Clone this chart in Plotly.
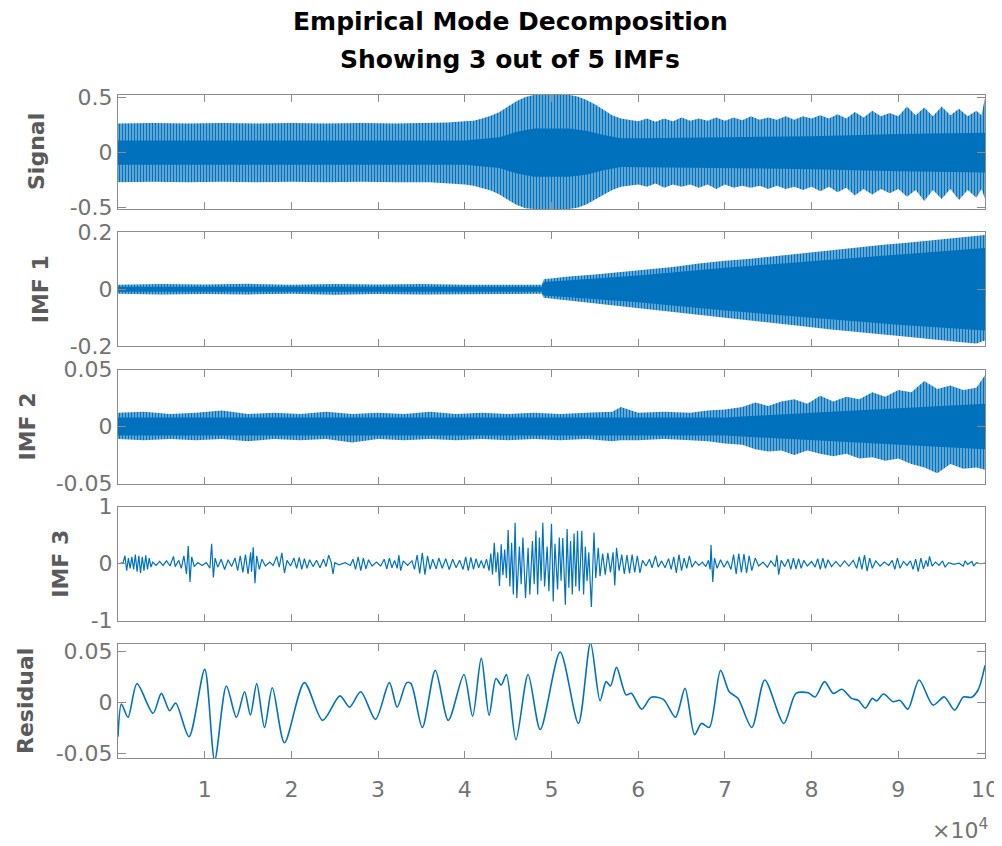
import plotly.graph_objects as go
from plotly.subplots import make_subplots

# ---------------- data (x positions in thousands of samples) ----------------
# Signal: outer envelope and dense core
SIG_XK = [0, 4, 8, 12, 16, 20, 24, 28, 32, 36, 38, 40, 41, 42, 43, 44, 45, 46, 47, 48,
          50, 52, 53, 54, 55, 56, 57, 58, 59, 60, 61, 62, 63, 64, 65, 66, 67, 68, 69, 70,
          71, 72, 73, 74, 75, 76, 77, 78, 79, 80, 81, 82, 83, 84, 85, 86, 87, 88, 89, 90,
          91, 92, 93, 94, 95, 96, 97, 98, 99, 99.6, 100]
SIG_UP = [0.265, 0.27, 0.265, 0.27, 0.265, 0.27, 0.265, 0.27, 0.265, 0.27, 0.275, 0.285, 0.29, 0.31, 0.335, 0.37, 0.42, 0.47, 0.505, 0.525,
          0.53, 0.525, 0.51, 0.48, 0.44, 0.39, 0.34, 0.31, 0.295, 0.285, 0.31, 0.28, 0.31, 0.285, 0.32, 0.29, 0.31, 0.29, 0.32, 0.29,
          0.32, 0.295, 0.33, 0.30, 0.32, 0.30, 0.33, 0.30, 0.33, 0.31, 0.34, 0.31, 0.35, 0.31, 0.37, 0.32, 0.38, 0.33, 0.36, 0.33,
          0.42, 0.34, 0.41, 0.33, 0.42, 0.34, 0.40, 0.33, 0.38, 0.34, 0.50]
SIG_LO = [-0.27, -0.265, -0.27, -0.265, -0.27, -0.265, -0.27, -0.265, -0.27, -0.27, -0.28, -0.29, -0.30, -0.32, -0.345, -0.38, -0.43, -0.475, -0.505, -0.512,
          -0.512, -0.512, -0.50, -0.47, -0.43, -0.385, -0.34, -0.31, -0.30, -0.29, -0.31, -0.28, -0.32, -0.29, -0.31, -0.29, -0.32, -0.29, -0.33, -0.29,
          -0.32, -0.30, -0.32, -0.30, -0.33, -0.30, -0.33, -0.31, -0.34, -0.31, -0.35, -0.31, -0.36, -0.32, -0.39, -0.33, -0.38, -0.33, -0.37, -0.33,
          -0.40, -0.34, -0.44, -0.34, -0.42, -0.33, -0.43, -0.34, -0.41, -0.33, -0.42]
SIG_CORE_XK = [0, 40, 44, 46, 48, 52, 54, 56, 58, 60, 70, 80, 90, 100]
SIG_CORE_UP = [0.11, 0.11, 0.14, 0.19, 0.22, 0.22, 0.20, 0.16, 0.13, 0.13, 0.14, 0.15, 0.17, 0.18]
SIG_CORE_LO = [-0.11, -0.11, -0.14, -0.19, -0.22, -0.22, -0.20, -0.16, -0.13, -0.13, -0.14, -0.15, -0.17, -0.18]

# IMF 1
IMF1_XK = [0, 5, 10, 15, 20, 25, 30, 35, 40, 45, 48.9, 49.1, 52, 55, 58, 61, 64, 67, 70, 73,
           76, 79, 82, 85, 88, 91, 94, 97, 99, 100]
IMF1_UP = [0.016, 0.018, 0.017, 0.019, 0.016, 0.018, 0.017, 0.018, 0.016, 0.017, 0.016, 0.035, 0.045, 0.052, 0.06, 0.07, 0.078, 0.09, 0.10, 0.107,
           0.117, 0.127, 0.135, 0.145, 0.155, 0.163, 0.172, 0.182, 0.188, 0.19]
IMF1_LO = [-0.016, -0.018, -0.017, -0.018, -0.016, -0.019, -0.017, -0.018, -0.016, -0.017, -0.016, -0.03, -0.04, -0.05, -0.06, -0.07, -0.08, -0.09, -0.10, -0.11,
           -0.12, -0.13, -0.14, -0.15, -0.158, -0.167, -0.175, -0.185, -0.19, -0.18]
IMF1_CORE_XK = [0, 48.9, 49.1, 60, 70, 80, 90, 100]
IMF1_CORE_UP = [0.009, 0.009, 0.025, 0.048, 0.075, 0.098, 0.12, 0.145]
IMF1_CORE_LO = [-0.009, -0.009, -0.022, -0.046, -0.075, -0.10, -0.125, -0.145]

# IMF 2
IMF2_XK = [0, 3, 6, 9, 12, 15, 18, 21, 24, 27, 30, 33, 36, 39, 42, 45, 48, 51, 54, 57,
           58, 60, 63, 66, 68, 70, 72, 73.5, 75, 76.5, 78, 79.5, 81, 82.5, 84, 85.5, 87, 88.5, 90, 91.5,
           93, 94.5, 96, 97.5, 99, 100]
IMF2_UP = [0.012, 0.013, 0.011, 0.012, 0.014, 0.011, 0.012, 0.011, 0.013, 0.011, 0.012, 0.011, 0.013, 0.011, 0.012, 0.011, 0.012, 0.011, 0.012, 0.013,
           0.017, 0.012, 0.013, 0.012, 0.014, 0.015, 0.017, 0.021, 0.018, 0.022, 0.024, 0.020, 0.027, 0.022, 0.026, 0.024, 0.030, 0.026, 0.032, 0.030,
           0.040, 0.033, 0.036, 0.032, 0.034, 0.045]
IMF2_LO = [-0.011, -0.012, -0.011, -0.012, -0.011, -0.013, -0.011, -0.012, -0.011, -0.014, -0.011, -0.012, -0.011, -0.012, -0.011, -0.012, -0.011, -0.012, -0.011, -0.013,
           -0.012, -0.012, -0.011, -0.012, -0.013, -0.015, -0.016, -0.020, -0.022, -0.021, -0.025, -0.021, -0.024, -0.026, -0.024, -0.028, -0.027, -0.030, -0.028, -0.033,
           -0.036, -0.041, -0.033, -0.037, -0.036, -0.038]
IMF2_CORE_XK = [0, 70, 80, 90, 100]
IMF2_CORE_UP = [0.008, 0.008, 0.012, 0.016, 0.02]
IMF2_CORE_LO = [-0.008, -0.008, -0.012, -0.016, -0.02]

# IMF 3: extrema
IMF3_XK = [0.0, 0.6, 0.8, 1.0, 1.2, 1.4, 1.6, 1.8, 2.0, 2.2,
           2.4, 2.6, 2.8, 3.0, 3.2, 3.4, 3.6, 3.8, 4.0, 4.4,
           4.8, 5.2, 5.6, 6.0, 6.4, 6.6, 7.0, 7.3, 7.6, 7.9,
           8.1, 8.3, 8.5, 8.8, 9.2, 9.7, 10.2, 10.6, 10.8, 11.0,
           11.2, 11.5, 11.9, 12.3, 12.7, 13.1, 13.5, 13.8, 14.1, 14.4,
           14.7, 15.0, 15.3, 15.4, 15.6, 15.8, 16.0, 16.3, 16.6, 17.0,
           17.5, 17.9, 18.3, 18.6, 18.9, 19.2, 19.5, 19.9, 20.3, 20.6,
           20.9, 21.2, 21.5, 21.8, 22.1, 22.5, 22.9, 23.3, 23.7, 24.0,
           24.3, 24.6, 24.8, 25.0, 25.5, 26.2, 26.8, 27.1, 27.4, 27.7,
           28.0, 28.3, 28.6, 28.9, 29.3, 29.8, 30.3, 30.7, 31.0, 31.3,
           31.6, 31.9, 32.2, 32.4, 32.6, 32.9, 33.4, 33.9, 34.2, 34.5,
           34.8, 35.1, 35.4, 35.7, 36.0, 36.3, 36.7, 37.0, 37.4, 37.8,
           38.2, 38.6, 39.0, 39.4, 39.8, 40.1, 40.4, 40.7, 41.0, 41.3,
           41.6, 41.9, 42.2, 42.5, 42.8, 43.0, 43.2, 43.4, 43.6, 43.8,
           44.0, 44.2, 44.4, 44.6, 44.8, 45.0, 45.2, 45.4, 45.6, 45.8,
           46.0, 46.3, 46.5, 46.7, 47.0, 47.3, 47.5, 47.8, 48.0, 48.2,
           48.4, 48.6, 48.8, 49.0, 49.2, 49.5, 49.7, 50.0, 50.2, 50.4,
           50.7, 50.9, 51.1, 51.3, 51.6, 51.8, 52.0, 52.2, 52.4, 52.6,
           52.8, 53.0, 53.2, 53.5, 53.7, 53.9, 54.1, 54.3, 54.6, 54.9,
           55.1, 55.4, 55.6, 55.9, 56.2, 56.5, 56.8, 57.1, 57.3, 57.5,
           57.8, 58.1, 58.4, 58.7, 59.0, 59.3, 59.6, 59.9, 60.2, 60.5,
           60.9, 61.3, 61.6, 62.0, 62.3, 62.7, 63.1, 63.5, 63.8, 64.1,
           64.4, 64.7, 65.0, 65.3, 65.6, 65.9, 66.2, 66.6, 67.0, 67.4,
           67.8, 68.1, 68.3, 68.4, 68.6, 68.8, 69.1, 69.5, 69.9, 70.3,
           70.7, 71.0, 71.3, 71.6, 71.9, 72.2, 72.5, 72.8, 73.1, 73.5,
           73.9, 74.4, 74.9, 75.3, 75.8, 76.0, 76.2, 76.5, 76.9, 77.3,
           77.6, 77.9, 78.2, 78.5, 78.8, 79.1, 79.5, 80.0, 80.4, 80.7,
           81.0, 81.3, 81.6, 81.9, 82.3, 82.8, 83.3, 83.8, 84.3, 84.8,
           85.2, 85.5, 85.8, 86.1, 86.4, 86.7, 87.0, 87.4, 87.9, 88.4,
           88.9, 89.3, 89.6, 89.9, 90.2, 90.6, 91.0, 91.4, 91.7, 92.0,
           92.3, 92.6, 92.9, 93.2, 93.4, 93.6, 93.9, 94.3, 94.7, 95.1,
           95.4, 95.8, 96.4, 97.0, 97.5, 97.7, 98.0, 98.5, 98.7, 99.0,
           99.5, 100.0]
IMF3_VAL = [0, 0.02, 0.14, -0.12, 0.10, -0.08, 0.12, -0.10, 0.16, -0.14,
            0.14, -0.16, 0.12, -0.12, 0.15, -0.10, 0.10, -0.06, 0.03, -0.03,
            0.04, -0.03, 0.05, -0.04, 0.13, -0.05, 0.06, -0.08, 0.14, -0.18,
            0.31, -0.32, 0.12, -0.05, 0.02, -0.03, 0.02, -0.08, 0.35, -0.24,
            0.10, -0.06, 0.08, -0.10, 0.07, -0.05, 0.10, -0.12, 0.14, -0.15,
            0.16, -0.18, 0.20, -0.14, 0.29, -0.34, 0.14, -0.10, 0.08, -0.04,
            0.03, -0.03, 0.13, -0.06, 0.19, -0.16, 0.06, -0.04, 0.10, -0.08,
            0.11, -0.10, 0.09, -0.08, 0.07, -0.05, 0.06, -0.07, 0.08, -0.05,
            0.15, 0.02, -0.18, 0.02, -0.02, 0.02, -0.03, 0.08, -0.10, 0.12,
            -0.12, 0.10, -0.09, 0.07, -0.04, 0.03, -0.04, 0.08, -0.09, 0.10,
            -0.07, 0.06, -0.08, 0.15, -0.12, 0.05, -0.03, 0.05, -0.10, 0.15,
            -0.17, 0.19, -0.19, 0.14, -0.10, 0.08, -0.09, 0.10, -0.08, 0.09,
            -0.10, 0.08, -0.07, 0.06, -0.10, 0.12, -0.12, 0.11, -0.10, 0.09,
            -0.07, 0.06, -0.08, 0.08, -0.12, 0.18, -0.19, 0.37, -0.15, 0.20,
            -0.39, 0.34, -0.20, 0.25, -0.25, 0.59, -0.40, 0.37, -0.54, 0.72,
            -0.60, 0.30, -0.36, 0.46, -0.60, 0.28, -0.54, 0.40, -0.36, 0.58,
            -0.54, 0.46, -0.30, 0.72, -0.40, 0.30, -0.48, 0.70, -0.66, 0.35,
            -0.45, 0.46, -0.30, 0.45, -0.72, 0.61, -0.42, 0.40, -0.54, 0.53,
            -0.40, 0.58, -0.48, 0.58, -0.54, 0.30, -0.30, 0.20, -0.76, 0.55,
            -0.25, 0.28, -0.22, 0.18, -0.19, 0.19, -0.15, 0.20, -0.38, 0.28,
            -0.12, 0.16, -0.18, 0.15, -0.17, 0.16, -0.15, 0.14, -0.16, 0.06,
            -0.04, 0.08, -0.07, 0.14, -0.06, 0.05, -0.07, 0.09, -0.10, 0.12,
            -0.16, 0.16, -0.12, 0.10, -0.08, 0.14, -0.06, 0.04, -0.03, 0.03,
            -0.05, 0.06, -0.10, 0.33, -0.32, 0.10, -0.08, 0.07, -0.06, 0.05,
            -0.10, 0.16, -0.18, 0.18, -0.15, 0.17, -0.16, 0.14, -0.12, 0.10,
            -0.04, 0.03, -0.06, 0.05, -0.05, 0.15, -0.19, 0.06, -0.05, 0.08,
            -0.10, 0.10, -0.09, 0.09, -0.08, 0.06, -0.04, 0.04, -0.06, 0.09,
            -0.10, 0.10, -0.08, 0.07, -0.05, 0.04, -0.05, 0.05, -0.04, 0.06,
            -0.08, 0.12, -0.10, 0.15, -0.13, 0.10, -0.08, 0.05, -0.04, 0.03,
            -0.03, 0.06, -0.10, 0.10, -0.08, 0.04, -0.03, 0.05, -0.10, 0.08,
            -0.14, 0.10, -0.09, 0.06, -0.05, 0.13, -0.04, 0.03, -0.03, 0.05,
            -0.06, 0.02, -0.01, 0.01, -0.04, 0.05, -0.01, 0.04, -0.04, 0.02,
            0.0, 0.01]

# Residual: extrema of the smooth trend
RES_XK = [0, 0.4, 1.15, 2.19, 4.04, 5.0, 5.96, 6.65, 8.19, 10.0,
          11.15, 12.5, 13.66, 14.6, 15.27, 16.0, 16.9, 17.8, 19.2, 21.5,
          23.6, 25.6, 26.7, 28.0, 29.7, 31.3, 32.2, 33.3, 33.8, 35.1,
          36.6, 38.1, 39.9, 40.9, 41.9, 42.8, 43.6, 44.2, 44.8, 45.9,
          47.3, 48.7, 51.0, 53.1, 54.5, 55.6, 56.3, 56.8, 57.5, 58.6,
          59.2, 60.4, 61.5, 62.9, 64.3, 65.4, 66.5, 67.3, 68.2, 69.5,
          70.5, 71.5, 73.1, 74.6, 76.8, 78.2, 79.6, 80.4, 81.5, 82.5,
          83.5, 84.6, 85.4, 86.2, 87.0, 87.5, 88.3, 89.4, 90.2, 91.1,
          92.4, 94.0, 95.3, 96.5, 97.5, 98.4, 99.2, 100]
RES_VAL = [-0.034, -0.002, -0.015, 0.018, -0.011, 0.0085, -0.0085, -0.001, -0.034, 0.032,
           -0.057, 0.0157, -0.015, 0.010, -0.0127, 0.018, -0.025, 0.014, -0.040, 0.019,
           -0.018, 0.006, -0.005, 0.010, -0.017, 0.019, -0.005, 0.019, 0.018, -0.025,
           0.031, -0.018, 0.027, -0.014, 0.043, -0.013, 0.023, 0.0167, 0.027, -0.037,
           0.027, -0.027, 0.049, -0.021, 0.058, 0.0013, 0.020, 0.0157, 0.034, 0.007,
           0.0085, -0.007, 0.0046, 0.0026, -0.015, 0.0134, -0.032, -0.021, -0.025, 0.031,
           0.010, 0.0036, -0.025, 0.0216, -0.021, 0.0085, 0.009, 0.005, 0.020, 0.0085,
           0.0125, 0.0036, 0.0016, -0.006, 0.0036, 0.001, 0.0078, 0.0003, 0.0016, -0.007,
           0.0216, -0.003, 0.005, -0.008, 0.005, 0.0045, 0.0118, 0.036]

# axis ticks / labels
X_TICKS = [10000, 20000, 30000, 40000, 50000, 60000, 70000, 80000, 90000, 100000]
X_TICKTEXT = ['1', '2', '3', '4', '5', '6', '7', '8', '9', '10']
PANEL_NAMES = ['Signal', 'IMF 1', 'IMF 2', 'IMF 3', 'Residual']
Y_RANGES = [[-0.512, 0.524], [-0.2, 0.2], [-0.05, 0.05], [-1, 1], [-0.0549, 0.0569]]
Y_TICKS = [[-0.5, 0, 0.5], [-0.2, 0, 0.2], [-0.05, 0, 0.05], [-1, 0, 1], [-0.05, 0, 0.05]]
Y_TICKTEXT = [['-0.5', '0', '0.5'], ['-0.2', '0', '0.2'], ['-0.05', '0', '0.05'],
              ['-1', '0', '1'], ['-0.05', '0', '0.05']]
TITLE_1 = 'Empirical Mode Decomposition'
TITLE_2 = 'Showing 3 out of 5 IMFs'

# ---------------- figure ----------------
# the page body adds an 8 px offset, so the figure is made 8 px smaller
PAGE_OFF = 8
W, H = 1002 - PAGE_OFF, 846 - PAGE_OFF
ABS_L, ABS_T, ABS_R, ABS_B = 118, 95, 985, 758       # plot area in window pixels
ML, MT = ABS_L - PAGE_OFF, ABS_T - PAGE_OFF
MR, MB = W - (ABS_R - PAGE_OFF), H - (ABS_B - PAGE_OFF)
PW, PH = ABS_R - ABS_L, ABS_B - ABS_T
BLUE = '#0072BD'
FONT = 'DejaVu Sans'
TICK_COLOR = '#737373'
LABEL_COLOR = '#5a5a5a'
AXIS_COLOR = '#8c8c8c'

fig = make_subplots(rows=5, cols=1, shared_xaxes=True, vertical_spacing=23.25 / PH)


def to_samples(xk):
    return [v * 1000 for v in xk]


def px_x(ax):
    return (ax - ABS_L) / PW


def px_y(ay):
    return 1 + (ABS_T - ay) / PH


def add_band(row, xk, up, lo, color, pattern=None):
    xs = to_samples(xk)
    kw = {}
    if pattern is not None:
        kw['fillpattern'] = pattern
    fig.add_trace(go.Scatter(x=xs + xs[::-1], y=list(up) + list(lo)[::-1],
                             mode='lines', fill='toself', fillcolor=color,
                             line=dict(width=0, color=color), hoverinfo='skip',
                             showlegend=False, **kw), row=row, col=1)


stripes = dict(shape='|', size=3, solidity=0.5, fgcolor=BLUE,
               bgcolor='rgba(0,114,189,0.5)')

add_band(1, SIG_XK, SIG_UP, SIG_LO, 'rgba(0,114,189,0.5)', stripes)
add_band(1, SIG_CORE_XK, SIG_CORE_UP, SIG_CORE_LO, BLUE)
add_band(2, IMF1_XK, IMF1_UP, IMF1_LO, 'rgba(0,114,189,0.5)', stripes)
add_band(2, IMF1_CORE_XK, IMF1_CORE_UP, IMF1_CORE_LO, BLUE)
add_band(3, IMF2_XK, IMF2_UP, IMF2_LO, 'rgba(0,114,189,0.5)', stripes)
add_band(3, IMF2_CORE_XK, IMF2_CORE_UP, IMF2_CORE_LO, BLUE)

fig.add_trace(go.Scatter(x=to_samples(IMF3_XK), y=IMF3_VAL, mode='lines',
                         line=dict(color=BLUE, width=1.2), showlegend=False), row=4, col=1)
fig.add_trace(go.Scatter(x=to_samples(RES_XK), y=RES_VAL, mode='lines',
                         line=dict(color=BLUE, width=1.6, shape='spline', smoothing=0.8),
                         showlegend=False), row=5, col=1)

for i in range(5):
    r = i + 1
    fig.update_xaxes(range=[0, 100000], tickvals=X_TICKS, ticktext=X_TICKTEXT,
                     ticks='inside', ticklen=7, tickcolor=AXIS_COLOR, tickwidth=1,
                     showline=True, linecolor=AXIS_COLOR, linewidth=1, mirror='ticks',
                     showgrid=False, zeroline=False,
                     tickfont=dict(family=FONT, size=22, color=TICK_COLOR),
                     ticklabelstandoff=12, row=r, col=1)
    fig.update_yaxes(range=Y_RANGES[i], tickvals=Y_TICKS[i], ticktext=Y_TICKTEXT[i],
                     ticks='inside', ticklen=8, tickcolor=AXIS_COLOR, tickwidth=1,
                     showline=True, linecolor=AXIS_COLOR, linewidth=1, mirror='ticks',
                     showgrid=False, zeroline=False,
                     tickfont=dict(family=FONT, size=22, color=TICK_COLOR),
                     ticklabelstandoff=0, row=r, col=1)

label_px = [36, 40, 27, 61, 25]
annotations = []
for i, name in enumerate(PANEL_NAMES):
    yref = 'y domain' if i == 0 else 'y%d domain' % (i + 1)
    annotations.append(dict(text='<b>%s</b>' % name, textangle=-90, showarrow=False,
                            xref='paper', x=px_x(label_px[i]), xanchor='center',
                            yref=yref, y=0.5, yanchor='middle',
                            font=dict(family=FONT, size=22, color=LABEL_COLOR)))

annotations.append(dict(text='<b>%s</b>' % TITLE_1, showarrow=False, xref='paper', x=px_x(510),
                        xanchor='center', yref='paper', y=px_y(22), yanchor='middle',
                        font=dict(family=FONT, size=25, color='#000000')))
annotations.append(dict(text='<b>%s</b>' % TITLE_2, showarrow=False, xref='paper', x=px_x(510),
                        xanchor='center', yref='paper', y=px_y(60), yanchor='middle',
                        font=dict(family=FONT, size=25, color='#000000')))
annotations.append(dict(text='\u00d710<sup>4</sup>', showarrow=False, xref='paper',
                        x=px_x(990), xanchor='right', yref='paper',
                        y=px_y(829), yanchor='middle',
                        font=dict(family=FONT, size=22, color=TICK_COLOR)))

fig.update_layout(width=W, height=H, margin=dict(l=ML, r=MR, t=MT, b=MB),
                  template='none', paper_bgcolor='white', plot_bgcolor='white',
                  showlegend=False, annotations=annotations)

fig.write_html('out.html')
